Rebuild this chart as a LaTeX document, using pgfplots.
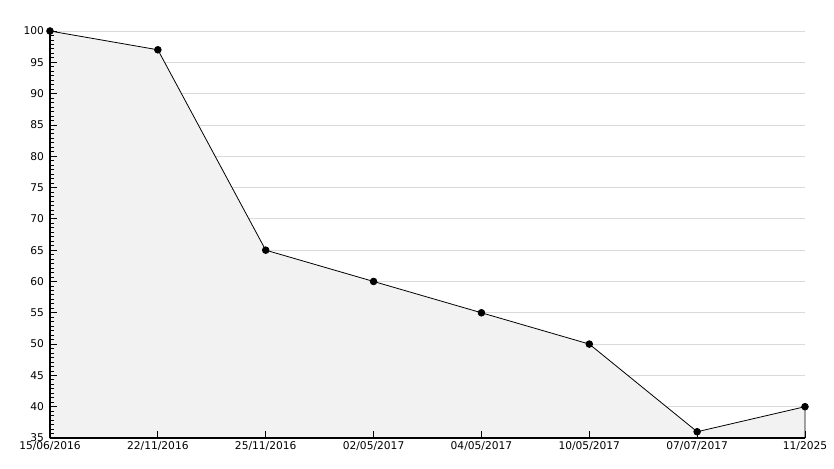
\documentclass[border=0pt]{standalone}
\usepackage{fontspec}
\setmainfont{DejaVu Sans}
\usepackage{pgfplots}
\pgfplotsset{compat=1.18}
\usetikzlibrary{calc}
\definecolor{areagray}{RGB}{242, 242, 242}
\definecolor{gridgray}{RGB}{218, 218, 218}

\pgfplotsset{
  frame/.style={
    scale only axis,
    width=566.25pt, height=305.25pt,
    xmin=0, xmax=7,
    ymin=35, ymax=100,
  },
}

\begin{document}
\begin{tikzpicture}
  % grid alone, behind the area
  \begin{axis}[
    frame,
    axis line style={draw=none},
    xtick=\empty,
    ytick={35,40,...,100},
    yticklabels={},
    major tick length=0pt,
    ymajorgrids,
    major grid style={gridgray, line width=0.6pt},
  ]
  \end{axis}
  % area, line, axes and ticks
  \begin{axis}[
    frame,
    axis on top,
    axis x line*=bottom,
    axis y line*=left,
    axis line style={line width=0.8pt, -},
    tick align=inside,
    xtick={0,...,7},
    xticklabels={15/06/2016, 22/11/2016, 25/11/2016, 02/05/2017, 04/05/2017, 10/05/2017, 07/07/2017, 11/2025},
    ytick={35,40,...,100},
    minor y tick num=6,
    major tick length=5pt,
    minor tick length=3pt,
    tick style={black, line width=0.6pt},
    every tick label/.append style={font=\fontsize{8}{10}\selectfont, text=black},
    /pgf/number format/assume math mode=true,
    yticklabel style={xshift=-1pt},
    xticklabel style={yshift=1pt},
    clip=false,
  ]
    \addplot[black, line width=0.6pt, fill=areagray,
             mark=*, mark size=2.5pt, mark options={fill=black}]
      coordinates {(0,100) (1,97) (2,65) (3,60) (4,55) (5,50) (6,36) (7,40)}
      \closedcycle;
    \coordinate (ll) at (rel axis cs:0,0);
  \end{axis}
  \pgfresetboundingbox
  \path[use as bounding box] ($(ll)+(-37.5pt,-22.5pt)$) rectangle ($(ll)+(588pt,328.5pt)$);
\end{tikzpicture}
\end{document}
